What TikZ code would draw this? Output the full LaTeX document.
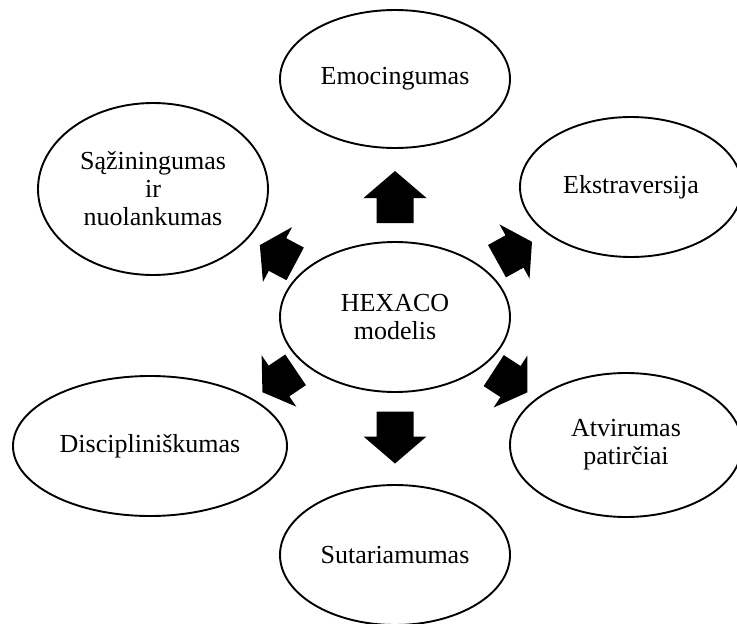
\documentclass[tikz,border=0pt]{standalone}
\usepackage{fontspec}
\setmainfont{Liberation Serif}
\usetikzlibrary{shapes.geometric}

% Block arrow: #1 centre, #2 direction, #3 length, #4 head length,
% #5 half head width, #6 half shaft width
\newcommand\hexarrow[6]{%
  \fill[arrowfill, shift={(#1)}, rotate=#2]
    ({-#3/2},{-#6}) -- ({#3/2-#4},{-#6}) -- ({#3/2-#4},{-#5}) -- ({#3/2},0)
    -- ({#3/2-#4},{#5}) -- ({#3/2-#4},{#6}) -- ({-#3/2},{#6}) -- cycle;}

\begin{document}
\begin{tikzpicture}[x=1pt, y=-1pt,
  trait/.style={draw=black, line width=1.9pt, ellipse, inner sep=0pt,
    align=center, font=\fontsize{26}{28}\selectfont},
  arrowfill/.style={fill=black}]
\useasboundingbox (0,0) rectangle (737,624);
\fill[white] (0,0) rectangle (737,624);

% hub and the six factors
\node[trait, minimum width=230pt, minimum height=150pt] (hex) at (395,317) {HEXACO\\modelis};
\node[trait, minimum width=230pt, minimum height=138pt] (emo) at (395,79) {Emocingumas};
\node[trait, minimum width=230pt, minimum height=172pt] (saz) at (153,189) {Sąžiningumas\\ir\\nuolankumas};
\node[trait, minimum width=222pt, minimum height=140pt] (ext) at (631,187) {Ekstraversija};
\node[trait, minimum width=274pt, minimum height=140pt] (dis) at (150,446) {Discipliniškumas};
\node[trait, minimum width=232pt, minimum height=144pt] (atv) at (626,445) {Atvirumas\\patirčiai};
\node[trait, minimum width=230pt, minimum height=140pt] (sut) at (395,555) {Sutariamumas};

% block arrows from the hub outwards
\hexarrow{395,197}{90}{52}{27}{31.5}{18.5}
\hexarrow{395,437.5}{-90}{52}{27}{31.5}{18.5}
\hexarrow{277.5,254.5}{152}{40}{20}{31}{18.5}
\hexarrow{514.5,251.5}{29}{40}{20}{31}{18.5}
\hexarrow{279,381}{214}{40}{20}{31}{18.5}
\hexarrow{510.5,381.5}{-33}{40}{20}{31}{18.5}
\end{tikzpicture}
\end{document}
